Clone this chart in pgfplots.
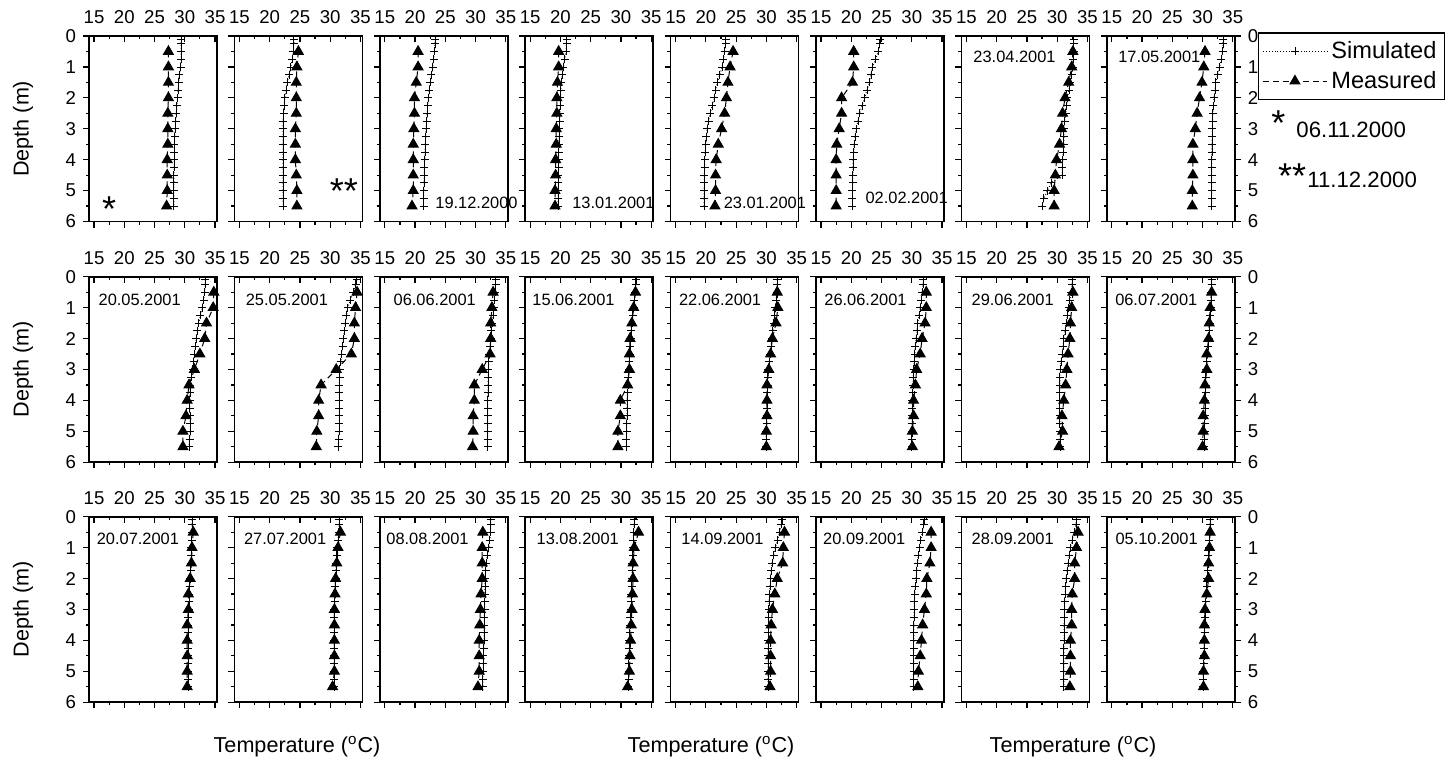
\documentclass[border=0pt]{standalone}
\usepackage{fontspec}
\setmainfont{Liberation Sans}
\usepackage{pgfplots}
\usepackage{pgfplotstable}
\pgfplotsset{compat=1.18}

\pgfplotstableread{
d s1 s2 s3 s4 s5 s6 s7 s8 s9 s10 s11 s12 s13 s14 s15 s16 s17 s18 s19 s20 s21 s22 s23 s24
0.1 29.4 24.0 23.3 21.0 23.3 24.75 32.7 33.4 33.4 34.4 33.3 32.5 31.8 31.9 32.5 31.5 31.2 31.5 32.5 32.2 32.6 32.1 33.2 31.25
0.25 29.4 24.0 23.3 21.0 23.25 24.7 32.7 33.4 33.4 34.2 33.3 32.45 31.8 31.85 32.45 31.5 31.2 31.5 32.5 32.2 32.5 32.0 33.1 31.25
0.5 29.4 23.9 23.2 20.9 23.1 24.5 32.7 33.3 33.3 33.8 33.2 32.35 31.7 31.7 32.3 31.45 31.2 31.4 32.5 32.1 32.2 31.75 32.8 31.15
0.75 29.4 23.7 23.1 20.7 22.9 24.0 32.65 33.1 33.1 33.35 33.1 32.2 31.6 31.55 32.1 31.4 31.15 31.3 32.35 32.05 31.85 31.5 32.5 31.1
1.0 29.3 23.5 22.9 20.5 22.7 23.5 32.6 32.8 32.9 32.9 33.0 32.1 31.5 31.4 31.9 31.4 31.1 31.2 32.2 32.0 31.5 31.3 32.2 31.05
1.25 29.1 23.2 22.7 20.3 22.3 23.25 32.4 32.5 32.6 32.7 32.9 31.95 31.35 31.2 31.7 31.3 31.05 31.1 31.95 31.95 31.2 31.1 32.0 30.95
1.5 29.0 22.9 22.5 20.1 21.9 23.0 32.2 32.2 32.3 32.5 32.75 31.85 31.2 31.0 31.5 31.2 31.0 31.0 31.75 31.9 30.95 30.95 31.8 30.9
1.75 28.9 22.7 22.35 20.05 21.65 22.6 31.95 32.05 32.1 32.35 32.6 31.7 31.05 30.85 31.3 31.1 30.95 30.95 31.65 31.85 30.8 30.8 31.65 30.85
2.0 28.8 22.5 22.2 20.0 21.4 22.2 31.7 31.9 31.9 32.2 32.5 31.6 30.9 30.7 31.1 31.0 30.9 30.9 31.6 31.8 30.7 30.7 31.5 30.75
2.25 28.7 22.4 22.1 19.95 21.05 21.8 31.55 31.8 31.75 32.05 32.4 31.5 30.75 30.6 30.95 30.9 30.8 30.85 31.55 31.75 30.6 30.6 31.4 30.7
2.5 28.6 22.3 22.0 19.9 20.7 21.4 31.4 31.7 31.6 31.9 32.3 31.45 30.6 30.5 30.8 30.8 30.7 30.8 31.55 31.7 30.5 30.5 31.3 30.65
2.75 28.5 22.2 21.9 19.85 20.45 21.1 31.25 31.65 31.45 31.75 32.2 31.35 30.45 30.4 30.65 30.7 30.7 30.75 31.5 31.65 30.45 30.45 31.25 30.55
3.0 28.4 22.2 21.8 19.8 20.2 20.8 31.1 31.6 31.3 31.6 32.1 31.3 30.3 30.3 30.5 30.6 30.65 30.7 31.5 31.6 30.4 30.4 31.2 30.45
3.25 28.35 22.2 21.75 19.8 20.1 20.65 31.1 31.6 31.1 31.55 32.1 31.2 30.25 30.25 30.45 30.55 30.6 30.7 31.45 31.55 30.4 30.4 31.2 30.4
3.5 28.3 22.2 21.7 19.75 20.0 20.5 31.1 31.55 30.9 31.5 32.05 31.15 30.2 30.2 30.45 30.5 30.6 30.7 31.45 31.5 30.4 30.35 31.15 30.35
3.75 28.3 22.2 21.65 19.7 19.9 20.4 31.0 31.55 30.85 31.5 32.05 31.1 30.15 30.15 30.4 30.5 30.6 30.7 31.4 31.45 30.35 30.35 31.15 30.35
4.0 28.3 22.2 21.6 19.7 19.8 20.3 30.9 31.5 30.8 31.5 32.0 31.0 30.1 30.1 30.4 30.45 30.6 30.7 31.4 31.4 30.35 30.35 31.15 30.3
4.25 28.25 22.2 21.55 19.7 19.8 20.3 30.85 31.5 30.8 31.5 32.0 31.0 30.1 30.1 30.4 30.4 30.6 30.7 31.35 31.4 30.3 30.3 31.1 30.25
4.5 28.2 22.2 21.5 19.65 19.75 20.25 30.8 31.5 30.85 31.5 32.0 31.0 30.05 30.05 30.45 30.4 30.6 30.7 31.3 31.35 30.3 30.3 31.1 30.25
4.75 28.2 22.2 21.5 19.65 19.75 20.25 29.0 31.5 30.9 31.5 32.0 30.95 30.05 30.05 30.45 30.35 30.6 30.7 31.3 31.3 30.3 30.3 31.1 30.2
5.0 28.2 22.2 21.45 19.6 19.7 20.2 28.4 31.5 30.9 31.5 32.0 30.95 30.0 30.0 30.5 30.35 30.6 30.7 31.25 31.3 30.3 30.3 31.1 30.15
5.25 28.2 22.2 21.4 19.6 19.7 20.2 27.8 31.5 30.8 31.4 32.0 30.9 30.0 30.0 30.5 30.3 30.6 30.7 31.2 31.25 30.3 30.3 31.1 30.15
5.5 28.2 22.2 21.4 19.6 19.7 20.2 27.5 31.5 30.7 31.3 32.0 30.9 30.0 30.0 30.5 30.3 30.6 30.7 31.2 31.2 30.3 30.3 31.1 30.15
}\simtab

\pgfplotstableread{
d m1 m2 m3 m4 m5 m6 m7 m8 m9 m10 m11 m12 m13 m14 m15 m16 m17 m18 m19 m20 m21 m22 m23 m24
0.5 27.3 24.75 20.5 19.7 24.5 20.4 32.6 30.4 34.8 34.45 32.9 32.4 31.8 32.4 32.6 31.5 31.4 31.7 31.2 32.9 33.0 33.2 33.45 31.25
1.0 27.3 24.5 20.5 19.7 24.0 20.4 32.4 30.2 34.7 34.2 32.7 32.1 31.9 32.4 32.4 31.25 31.2 31.3 31.1 32.2 32.8 33.2 33.2 31.15
1.5 27.3 24.4 20.2 19.5 23.65 20.2 31.9 29.9 33.6 34.0 32.5 31.8 31.6 32.2 32.2 31.1 31.1 31.1 31.1 32.0 32.7 33.0 32.9 31.0
2.0 27.3 24.4 19.9 19.4 23.4 18.4 31.3 29.5 33.3 34.0 32.5 31.5 31.0 31.7 32.1 31.0 30.9 30.9 31.1 32.0 31.8 32.5 32.9 31.0
2.5 27.2 24.4 19.9 19.4 23.1 18.4 30.9 29.1 32.5 33.5 32.4 31.4 30.7 31.4 31.8 30.7 30.6 30.8 30.9 31.9 31.4 32.4 32.5 30.7
3.0 27.2 24.25 19.8 19.3 22.6 18.0 30.7 28.8 31.6 31.0 31.1 31.4 30.4 30.8 31.6 30.7 30.6 30.7 30.8 31.8 31.0 32.1 32.4 30.4
3.5 27.2 24.25 19.7 19.3 22.05 17.6 30.4 28.4 30.7 28.5 29.8 31.1 30.1 30.6 31.4 30.4 30.4 30.7 30.7 31.7 30.8 31.8 32.4 30.3
4.0 27.1 24.25 19.7 19.2 21.7 17.5 29.9 28.4 30.4 28.1 29.8 29.9 30.1 30.3 31.1 30.3 30.4 30.7 30.6 31.6 30.7 31.6 32.2 30.3
4.5 27.1 24.4 19.7 19.2 21.6 17.5 29.7 28.4 30.2 28.1 29.6 29.9 30.1 30.3 30.8 30.1 30.4 30.7 30.6 31.5 30.7 31.4 32.2 30.3
5.0 27.1 24.5 19.7 19.1 21.6 17.5 29.5 28.3 29.7 27.8 29.6 29.5 30.0 30.1 30.9 30.1 30.4 30.7 30.6 31.4 30.7 31.1 32.2 30.15
5.5 27.0 24.5 19.5 19.1 21.5 17.5 29.5 28.3 29.7 27.7 29.5 29.5 30.0 30.1 30.3 30.0 30.4 30.4 30.4 31.1 30.6 31.0 32.1 30.15
}\meastab

\tikzset{
  datelbl/.style={anchor=west, inner sep=0pt, font=\fontsize{8.2}{9}\selectfont},
  astlbl/.style={anchor=base west, inner sep=0pt, font=\fontsize{18}{18}\selectfont},
}

\pgfplotsset{
  panelbase/.style={
    scale only axis, width=64pt, height=92.75pt, anchor=center,
    xmin=14.17, xmax=35.33, ymin=0, ymax=6, y dir=reverse,
    xtick={15,20,25,30,35}, minor x tick num=1,
    major tick length=3pt, minor tick length=1.6pt,
    every tick/.style={black, line width=0.6pt},
    tick label style={font=\fontsize{9.3}{10}\selectfont},
    /pgf/number format/assume math mode=true,
    clip=false,
  },
  panelA/.style={
    panelbase,
    ytick={0,1,2,3,4,5,6}, minor y tick num=1,
    axis line style={line width=0.8pt},
    tick align=outside,
    xtick pos=lower, xticklabels={},
    ytick pos=left,
  },
  panelB/.style={
    panelbase,
    ytick=\empty,
    axis line style={draw=none},
    tick align=inside,
    xtick pos=upper,
    xticklabel style={yshift=2.5pt},
  },
  legimg/.style={
    legend image code/.code={\draw[mark repeat=2,mark phase=2,##1] plot coordinates {(0pt,0pt) (16pt,0pt) (32pt,0pt)};}
  },
  simstyle/.style={black, line width=0.45pt, densely dotted, mark=+, mark size=2pt, mark options={solid, line width=0.4pt}},
  measstyle/.style={black, line width=0.5pt, densely dashed, mark=triangle*, mark size=2.8pt, mark options={solid}},
}

\newcommand{\panel}[5]{%
  \begin{axis}[panelA, at={(#1pt,-#2pt)}, #3]
    \addplot[simstyle] table[x=s#4, y=d] {\simtab};
    \addplot[measstyle] table[x=m#4, y=d] {\meastab};
    #5
  \end{axis}
  \begin{axis}[panelB, at={(#1pt,-#2pt)}]
  \end{axis}%
}

\begin{document}
\begin{tikzpicture}
\path[use as bounding box] (0,0) rectangle (726pt,-381.5pt);

% Row 1
\panel{76.5}{64.4}{}{1}{\node[astlbl] at (axis cs:16.27,6.0) {*};}
\panel{149.2}{64.4}{yticklabels={}}{2}{\node[astlbl] at (axis cs:29.9,5.42) {**};}
\panel{221.9}{64.4}{yticklabels={}}{3}{\node[datelbl] at (axis cs:23.3,5.4) {19.12.2000};}
\panel{294.6}{64.4}{yticklabels={}}{4}{\node[datelbl] at (axis cs:21.9,5.4) {13.01.2001};}
\panel{367.3}{64.4}{yticklabels={}}{5}{\node[datelbl] at (axis cs:22.9,5.4) {23.01.2001};}
\panel{440.0}{64.4}{yticklabels={}}{6}{\node[datelbl] at (axis cs:22.3,5.23) {02.02.2001};}
\panel{512.7}{64.4}{yticklabels={}}{7}{\node[datelbl] at (axis cs:16.1,0.68) {23.04.2001};}
\panel{585.4}{64.4}{ytick pos=both, yticklabel pos=right,
  legend entries={Simulated,Measured}, legimg,
  legend style={at={(1.18,1.02)}, anchor=north west, draw=black, line width=0.6pt,
    font=\fontsize{11.8}{13}\selectfont, inner sep=2pt, row sep=1pt,
    cells={anchor=west}}
  }{8}{\node[datelbl] at (axis cs:16.0,0.68) {17.05.2001};}

% Row 2
\panel{76.5}{184.75}{}{9}{\node[datelbl] at (axis cs:15.7,0.75) {20.05.2001};}
\panel{149.2}{184.75}{yticklabels={}}{10}{\node[datelbl] at (axis cs:16.0,0.75) {25.05.2001};}
\panel{221.9}{184.75}{yticklabels={}}{11}{\node[datelbl] at (axis cs:16.4,0.75) {06.06.2001};}
\panel{294.6}{184.75}{yticklabels={}}{12}{\node[datelbl] at (axis cs:15.3,0.75) {15.06.2001};}
\panel{367.3}{184.75}{yticklabels={}}{13}{\node[datelbl] at (axis cs:15.5,0.75) {22.06.2001};}
\panel{440.0}{184.75}{yticklabels={}}{14}{\node[datelbl] at (axis cs:15.5,0.75) {26.06.2001};}
\panel{512.7}{184.75}{yticklabels={}}{15}{\node[datelbl] at (axis cs:15.8,0.75) {29.06.2001};}
\panel{585.4}{184.75}{ytick pos=both, yticklabel pos=right}{16}{\node[datelbl] at (axis cs:15.5,0.75) {06.07.2001};}

% Row 3
\panel{76.5}{304.75}{}{17}{\node[datelbl] at (axis cs:15.4,0.72) {20.07.2001};}
\panel{149.2}{304.75}{yticklabels={}}{18}{\node[datelbl] at (axis cs:15.7,0.72) {27.07.2001};}
\panel{221.9}{304.75}{yticklabels={}}{19}{\node[datelbl] at (axis cs:15.2,0.72) {08.08.2001};}
\panel{294.6}{304.75}{yticklabels={}}{20}{\node[datelbl] at (axis cs:16.0,0.72) {13.08.2001};}
\panel{367.3}{304.75}{yticklabels={}}{21}{\node[datelbl] at (axis cs:15.9,0.72) {14.09.2001};}
\panel{440.0}{304.75}{yticklabels={}}{22}{\node[datelbl] at (axis cs:15.3,0.72) {20.09.2001};}
\panel{512.7}{304.75}{yticklabels={}}{23}{\node[datelbl] at (axis cs:15.8,0.72) {28.09.2001};}
\panel{585.4}{304.75}{ytick pos=both, yticklabel pos=right}{24}{\node[datelbl] at (axis cs:15.55,0.72) {05.10.2001};}

% Axis titles
\foreach \yy in {64.4,184.75,304.75}
  \node[rotate=90, font=\fontsize{10.8}{12}\selectfont] at (11.5pt,-\yy pt) {Depth (m)};
\foreach \xx in {148.5,355.5,536.5}
  \node[font=\fontsize{10.8}{12}\selectfont] at (\xx pt,-373.5pt) {Temperature (\textsuperscript{o}C)};

% Notes
\node[astlbl] at (635.5pt,-67.9pt) {*};
\node[anchor=west, inner sep=0pt, font=\fontsize{11.1}{12}\selectfont] at (648pt,-65pt) {06.11.2000};
\node[astlbl] at (638.9pt,-94.4pt) {**};
\node[anchor=west, inner sep=0pt, font=\fontsize{11.1}{12}\selectfont] at (653.5pt,-90pt) {11.12.2000};
\end{tikzpicture}
\end{document}
